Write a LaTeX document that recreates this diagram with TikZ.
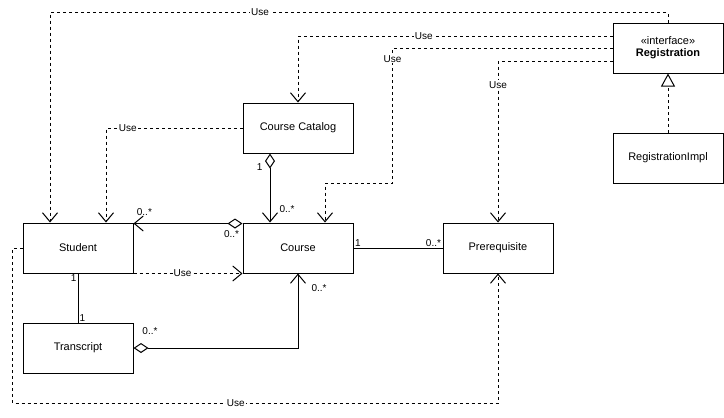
\documentclass[tikz,border=0pt]{standalone}
\usepackage{fontspec}
\setmainfont{Liberation Sans}
\usetikzlibrary{arrows.meta}

\begin{document}
\begin{tikzpicture}[x=1pt,y=-1pt,line width=1pt,
    cls/.style={draw,rectangle,minimum width=110pt,minimum height=50pt,inner sep=0pt,font=\fontsize{11}{13}\selectfont},
    use/.style={dash pattern=on 3pt off 3pt,-{Straight Barb[length=9pt,width=15pt,line width=1pt]}},
    assoc/.style={{Diamond[open,length=15pt,width=10pt,line width=1pt]}-{Straight Barb[length=9pt,width=15pt,line width=1pt]}},
    lbl/.style={font=\fontsize{10}{12}\selectfont,inner sep=1pt},
    uselbl/.style={lbl,fill=white}]
      \useasboundingbox (0,0) rectangle (724,418);
      % classes
      \node[cls,align=center] (reg) at (668,48) {«interface»\\[-1pt]\textbf{Registration}};
      \node[cls] (regimpl) at (668,158) {RegistrationImpl};
      \node[cls] (catalog) at (298,128) {Course Catalog};
      \node[cls] (student) at (78,248) {Student};
      \node[cls] (course) at (298,248) {Course};
      \node[cls] (prereq) at (498,248) {Prerequisite};
      \node[cls] (transcript) at (78,348) {Transcript};
      % dependencies from the interface
      \draw[use] (reg.north) -- ++(0,-10) -| ([xshift=-28pt]student.north)
        node[uselbl,pos=0.33] {Use};
      \draw[use] ([yshift=12pt]reg.west) -| (catalog.north)
        node[uselbl,pos=0.3] {Use};
      \draw[use] (reg.west) -- ++(-220,0) -- ++(0,135)
        node[uselbl,pos=0.08] {Use} -| ([xshift=27pt]course.north);
      \draw[use] ([yshift=-13pt]reg.west) -| (prereq.north)
        node[uselbl,pos=0.574] {Use};
      \draw[use] (catalog.west) -| ([xshift=28pt]student.north)
        node[uselbl,pos=0.42] {Use};
      \draw[use] (student.south east) -- (course.south west)
        node[uselbl,pos=0.45] {Use};
      \draw[use] (student.west) -- ++(-10,0) -- ++(0,155) -| (prereq.south)
        node[uselbl,pos=0.23] {Use};
      % realization
      \draw[dash pattern=on 3pt off 3pt,-{Triangle[open,length=13pt,width=14pt,line width=1pt]}]
        (regimpl.north) -- (reg.south);
      % associations
      \draw[assoc] ([xshift=-28pt]catalog.south) -- ([xshift=-28pt]course.north)
        node[lbl,pos=0.2,left=6pt] {1}
        node[lbl,pos=0.8,right=8pt] {0..*};
      \draw[assoc] ([yshift=-1pt]course.north west) -- ([yshift=-1pt]student.north east)
        node[lbl,pos=0.9,above=6pt] {0..*}
        node[lbl,pos=0.1,below=6pt] {0..*};
      \draw[assoc] (transcript.east) -| (course.south)
        node[lbl,pos=0.05,above=12pt] {0..*}
        node[lbl,pos=0.9,right=12pt] {0..*};
      \draw (course.east) -- (prereq.west)
        node[lbl,pos=0,above right] {1}
        node[lbl,pos=1,above left] {0..*};
      \draw (student.south) -- (transcript.north)
        node[lbl,pos=0,below left] {1}
        node[lbl,pos=1,above right] {1};
\end{tikzpicture}
\end{document}
